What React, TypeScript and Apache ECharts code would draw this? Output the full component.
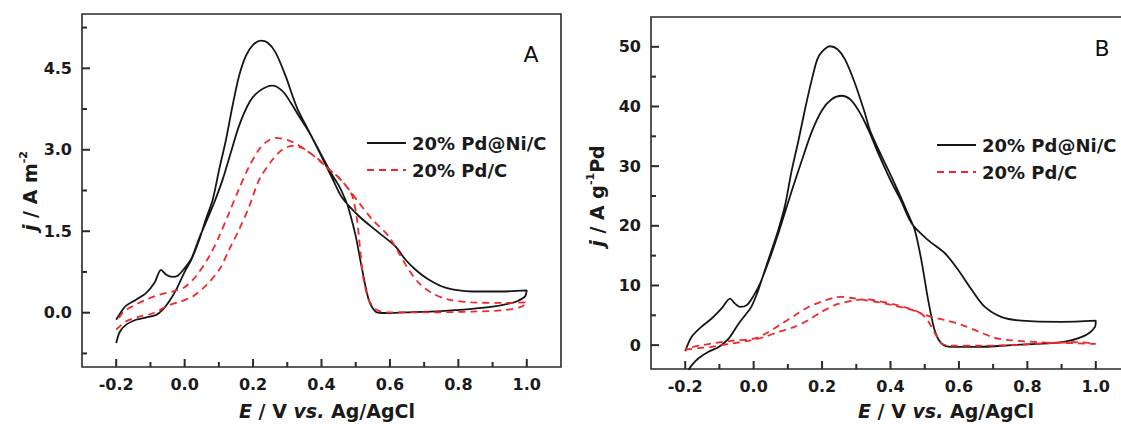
import React, { useEffect, useRef } from 'react';
import * as echarts from 'echarts';

// ---------- tick values ----------
const X_LABELS = [-0.2, 0, 0.2, 0.4, 0.6, 0.8, 1.0];
const X_MINOR = [-0.1, 0.1, 0.3, 0.5, 0.7, 0.9];
const YA_LABELS = [0, 1.5, 3.0, 4.5];
const YA_MINOR = [-0.75, 0.75, 2.25, 3.75, 5.25];
const YB_LABELS = [0, 10, 20, 30, 40, 50];
const YB_MINOR = [5, 15, 25, 35, 45];

const LEGEND_NAMES = ['20% Pd@Ni/C', '20% Pd/C'];

// ---------- Panel A : j / A m^-2 ----------
const A_NI_FWD = [
  [-0.2, -0.13], [-0.185, 0.02], [-0.171, 0.13], [-0.142, 0.24], [-0.113, 0.36], [-0.088, 0.55],
  [-0.069, 0.79], [-0.054, 0.7], [-0.035, 0.66], [-0.02, 0.68], [0.0, 0.82], [0.02, 1.0],
  [0.043, 1.38], [0.062, 1.66], [0.086, 2.02], [0.111, 2.45], [0.135, 2.95], [0.159, 3.44],
  [0.189, 3.87], [0.218, 4.08], [0.257, 4.18], [0.286, 4.08], [0.31, 3.87], [0.334, 3.62],
  [0.364, 3.32], [0.403, 2.84], [0.432, 2.47], [0.46, 2.12], [0.509, 1.78], [0.568, 1.47],
  [0.616, 1.22], [0.645, 0.98], [0.675, 0.79], [0.713, 0.61], [0.762, 0.46], [0.84, 0.39],
  [0.92, 0.39], [1.0, 0.41],
];
const A_NI_BWD = [
  [1.0, 0.41], [0.995, 0.3], [0.975, 0.22], [0.956, 0.18], [0.9, 0.11], [0.84, 0.07], [0.75, 0.03],
  [0.645, 0.006], [0.577, -0.006], [0.558, 0.02], [0.538, 0.24], [0.519, 0.79], [0.5, 1.41],
  [0.48, 1.9], [0.47, 2.08], [0.45, 2.35], [0.43, 2.55], [0.4, 2.9], [0.36, 3.38], [0.33, 3.75],
  [0.315, 4.0], [0.295, 4.36], [0.266, 4.79], [0.243, 4.97], [0.223, 5.01], [0.2, 4.93],
  [0.179, 4.73], [0.159, 4.36], [0.14, 3.81], [0.121, 3.19], [0.101, 2.64], [0.082, 2.08],
  [0.062, 1.72], [0.043, 1.35], [0.02, 0.98], [0.0, 0.75], [-0.025, 0.42], [-0.045, 0.21],
  [-0.064, 0.055], [-0.083, -0.04], [-0.113, -0.09], [-0.142, -0.13], [-0.171, -0.22],
  [-0.19, -0.36], [-0.2, -0.56],
];
const A_PD_FWD = [
  [-0.2, -0.31], [-0.171, -0.16], [-0.132, -0.07], [-0.093, -0.01], [-0.045, 0.14], [-0.015, 0.2],
  [0.024, 0.3], [0.062, 0.5], [0.101, 0.79], [0.13, 1.16], [0.159, 1.53], [0.189, 1.96],
  [0.218, 2.45], [0.257, 2.82], [0.285, 3.0], [0.315, 3.07], [0.354, 3.0], [0.39, 2.82],
  [0.42, 2.65], [0.451, 2.48], [0.48, 2.27], [0.509, 2.03], [0.548, 1.72], [0.596, 1.41],
  [0.626, 1.1], [0.655, 0.79], [0.684, 0.55], [0.723, 0.36], [0.772, 0.24], [0.84, 0.19],
  [0.937, 0.18], [1.0, 0.19],
];
const A_PD_BWD = [
  [1.0, 0.19], [0.985, 0.11], [0.937, 0.05], [0.84, 0.02], [0.694, 0.006], [0.587, 0.006],
  [0.557, 0.07], [0.538, 0.24], [0.523, 0.61], [0.514, 1.1], [0.504, 1.71], [0.49, 2.15],
  [0.47, 2.35], [0.449, 2.5], [0.42, 2.65], [0.396, 2.8], [0.36, 2.97], [0.334, 3.08],
  [0.305, 3.17], [0.266, 3.22], [0.24, 3.15], [0.218, 3.01], [0.189, 2.7], [0.159, 2.28],
  [0.13, 1.84], [0.101, 1.41], [0.072, 1.04], [0.033, 0.67], [0.0, 0.47], [-0.03, 0.4],
  [-0.074, 0.33], [-0.113, 0.24], [-0.152, 0.12], [-0.181, 0.0], [-0.2, -0.19],
];

// ---------- Panel B : j / A g^-1 Pd ----------
const B_NI_FWD = [
  [-0.2, -1.0], [-0.181, 1.4], [-0.152, 3.1], [-0.122, 4.5], [-0.093, 6.2], [-0.069, 7.8],
  [-0.055, 7.0], [-0.04, 6.4], [-0.02, 6.7], [0.0, 8.3], [0.02, 10.5], [0.053, 15.5],
  [0.082, 20.5], [0.111, 25.8], [0.141, 31.0], [0.17, 35.8], [0.199, 39.3], [0.228, 41.2],
  [0.257, 41.8], [0.286, 41.0], [0.315, 38.5], [0.34, 35.5], [0.364, 32.2], [0.403, 27.3],
  [0.43, 24.3], [0.462, 20.4], [0.51, 17.6], [0.559, 15.4], [0.598, 12.6], [0.637, 9.3],
  [0.676, 6.4], [0.725, 4.7], [0.783, 4.1], [0.9, 3.9], [1.0, 4.1],
];
const B_NI_BWD = [
  [1.0, 4.1], [0.997, 3.0], [0.968, 1.6], [0.9, 0.5], [0.754, 0.0], [0.656, -0.3], [0.578, -0.3],
  [0.549, 0.3], [0.529, 2.5], [0.51, 7.6], [0.49, 14.3], [0.471, 19.3], [0.455, 21.5],
  [0.43, 24.8], [0.403, 28.2], [0.364, 32.9], [0.34, 36.0], [0.325, 38.9], [0.296, 43.9],
  [0.267, 47.9], [0.245, 49.6], [0.223, 50.1], [0.2, 49.2], [0.186, 47.9], [0.17, 44.5],
  [0.15, 39.5], [0.131, 34.3], [0.111, 29.2], [0.092, 23.5], [0.072, 19.3], [0.053, 16.0],
  [0.033, 12.6], [0.014, 9.3], [-0.006, 6.5], [-0.025, 5.0], [-0.044, 3.6], [-0.073, 1.1],
  [-0.102, -0.3], [-0.132, -1.1], [-0.161, -2.2], [-0.18, -3.3], [-0.19, -4.2], [-0.2, -5.5],
];
const B_PD_FWD = [
  [-0.2, -0.73], [-0.161, -0.5], [-0.122, -0.28], [-0.064, 0.28], [-0.015, 0.73], [0.033, 1.4],
  [0.072, 2.2], [0.121, 3.1], [0.16, 4.2], [0.199, 5.6], [0.247, 6.9], [0.296, 7.5],
  [0.33, 7.7], [0.364, 7.4], [0.413, 6.8], [0.462, 6.0], [0.51, 4.9], [0.559, 4.2],
  [0.608, 3.4], [0.656, 2.3], [0.705, 1.2], [0.754, 0.8], [0.851, 0.45], [0.948, 0.3], [1.0, 0.2],
];
const B_PD_BWD = [
  [1.0, 0.2], [0.948, 0.5], [0.851, 0.3], [0.754, 0.0], [0.656, -0.1], [0.578, -0.1],
  [0.549, 0.3], [0.53, 2.0], [0.51, 4.0], [0.491, 5.2], [0.462, 5.9], [0.413, 6.6],
  [0.364, 7.2], [0.32, 7.6], [0.286, 7.9], [0.26, 8.1], [0.237, 8.0], [0.199, 7.3],
  [0.16, 6.4], [0.121, 5.0], [0.082, 3.6], [0.04, 2.1], [0.004, 1.12], [-0.06, 0.75],
  [-0.113, 0.35], [-0.16, -0.1], [-0.2, -0.6],
];

const X_MIN = -0.3;
const X_MAX = 1.1;
const YA_MIN = -1.0;
const YA_MAX = 5.5;
const YB_MIN = -4;
const YB_MAX = 55;

const FONT = '"DejaVu Sans", "Liberation Sans", sans-serif';
const TXT = '#1a1a1a';
const AX = '#2a2a2a';
const BLACK = '#161616';
const RED = '#f0282d';
const MAJOR_LEN = 8;
const MINOR_LEN = 5;

function xAxis(gridIndex: number) {
  return {
    type: 'value', gridIndex, min: X_MIN, max: X_MAX, position: 'bottom',
    axisLine: { show: false, onZero: false }, splitLine: { show: false }, axisTick: { show: false },
    axisLabel: {
      customValues: X_LABELS, formatter: (v: number) => Number(v).toFixed(1), margin: 9,
      fontFamily: FONT, fontWeight: 'bold', fontSize: 16, color: TXT,
    },
  };
}

function yAxis(gridIndex: number, min: number, max: number, labels: number[], digits: number) {
  return {
    type: 'value', gridIndex, min, max, position: 'left',
    axisLine: { show: false, onZero: false }, splitLine: { show: false }, axisTick: { show: false },
    axisLabel: {
      customValues: labels, formatter: (v: number) => Number(v).toFixed(digits), margin: 10,
      fontFamily: FONT, fontWeight: 'bold', fontSize: 16, color: TXT,
    },
  };
}

// inward tick marks, positioned through the axes' scales
function tickSeries(idx: number, yMin: number, yLabels: number[], yMinor: number[]) {
  const xData = [
    ...X_LABELS.map((v) => [v, yMin, MAJOR_LEN]),
    ...X_MINOR.map((v) => [v, yMin, MINOR_LEN]),
  ];
  const yData = [
    ...yLabels.map((v) => [X_MIN, v, MAJOR_LEN]),
    ...yMinor.map((v) => [X_MIN, v, MINOR_LEN]),
  ];
  const mk = (data: number[][], horizontal: boolean) => ({
    type: 'custom', coordinateSystem: 'cartesian2d', xAxisIndex: idx, yAxisIndex: idx, clip: false, z: 5,
    data,
    renderItem: (_p: any, api: any) => {
      const pt = api.coord([api.value(0), api.value(1)]);
      const len = api.value(2);
      return {
        type: 'line',
        shape: horizontal
          ? { x1: pt[0], y1: pt[1], x2: pt[0] + len, y2: pt[1] }
          : { x1: pt[0], y1: pt[1], x2: pt[0], y2: pt[1] - len },
        style: { stroke: AX, lineWidth: 2 },
      };
    },
  });
  return [mk(xData, false), mk(yData, true)];
}

function cv(name: string, fwd: number[][], bwd: number[][], idx: number, dashed: boolean) {
  return {
    type: 'line', name, xAxisIndex: idx, yAxisIndex: idx,
    data: [...fwd, ...bwd.slice(1)],
    showSymbol: false, smooth: 0.3, silent: true, clip: true,
    lineStyle: dashed ? { color: RED, width: 1.8, type: [7, 5] } : { color: BLACK, width: 1.8 },
  };
}

const richBase = { fontFamily: FONT, fontWeight: 'bold', fontSize: 19, fill: TXT, lineHeight: 24 };
const richSet = {
  i: { ...richBase, fontStyle: 'italic' },
  n: { ...richBase },
  s: { fontFamily: FONT, fontWeight: 'bold', fontSize: 11, fill: TXT, lineHeight: 24, verticalAlign: 'top' },
};

function titleText(x: number, y: number, text: string, rotate: boolean) {
  return {
    type: 'text', x, y, rotation: rotate ? Math.PI / 2 : 0, silent: true,
    style: {
      text, rich: richSet, ...richBase,
      align: 'center', verticalAlign: 'middle', textAlign: 'center', textVerticalAlign: 'middle',
    },
  };
}

function legend(x1: number, y1: number, gap: number) {
  const txt = (y: number, s: string) => ({
    type: 'text', x: x1 + 45, y, silent: true,
    style: {
      text: s, fontFamily: FONT, fontWeight: 'bold', fontSize: 18, fill: TXT,
      align: 'left', verticalAlign: 'middle', textAlign: 'left', textVerticalAlign: 'middle',
    },
  });
  return [
    { type: 'line', silent: true, shape: { x1, y1, x2: x1 + 39, y2: y1 }, style: { stroke: BLACK, lineWidth: 1.8 } },
    { type: 'line', silent: true, shape: { x1, y1: y1 + gap, x2: x1 + 39, y2: y1 + gap }, style: { stroke: RED, lineWidth: 1.8, lineDash: [7, 5] } },
    txt(y1, LEGEND_NAMES[0]),
    txt(y1 + gap, LEGEND_NAMES[1]),
  ];
}

function panelLetter(x: number, y: number, s: string) {
  return {
    type: 'text', x, y, silent: true,
    style: {
      text: s, fontFamily: FONT, fontSize: 22, fill: '#111',
      align: 'center', verticalAlign: 'middle', textAlign: 'center', textVerticalAlign: 'middle',
    },
  };
}

export default function App() {
  const ref = useRef<HTMLDivElement>(null);
  useEffect(() => {
    document.body.style.margin = '0';
    if (!ref.current) return;
    const chart = echarts.init(ref.current, undefined, { renderer: 'svg' });
    const option: any = {
      animation: false,
      backgroundColor: '#ffffff',
      grid: [
        { left: 82, top: 14, width: 479, height: 353, show: true, borderColor: AX, borderWidth: 1.6, outerBoundsMode: 'none', containLabel: false },
        { left: 651, top: 17, width: 479, height: 352, show: true, borderColor: AX, borderWidth: 1.6, outerBoundsMode: 'none', containLabel: false },
      ],
      xAxis: [xAxis(0), xAxis(1)],
      yAxis: [
        yAxis(0, YA_MIN, YA_MAX, YA_LABELS, 1),
        yAxis(1, YB_MIN, YB_MAX, YB_LABELS, 0),
      ],
      series: [
        cv(LEGEND_NAMES[0], A_NI_FWD, A_NI_BWD, 0, false),
        cv(LEGEND_NAMES[1], A_PD_FWD, A_PD_BWD, 0, true),
        cv(LEGEND_NAMES[0], B_NI_FWD, B_NI_BWD, 1, false),
        cv(LEGEND_NAMES[1], B_PD_FWD, B_PD_BWD, 1, true),
        ...tickSeries(0, YA_MIN, YA_LABELS, YA_MINOR),
        ...tickSeries(1, YB_MIN, YB_LABELS, YB_MINOR),
      ],
      graphic: [
        titleText(327, 411, '{i|E}{n| / V }{i|vs.}{n| Ag/AgCl}', false),
        titleText(946, 411, '{i|E}{n| / V }{i|vs.}{n| Ag/AgCl}', false),
        titleText(30, 191, '{i|j}{n| / A m}{s|-2}', true),
        titleText(597, 196, '{i|j}{n| / A g}{s|-1}{n|Pd}', true),
        ...legend(367, 143, 27),
        ...legend(937, 145, 27),
        panelLetter(531, 54, 'A'),
        panelLetter(1102, 48, 'B'),
      ],
    };
    chart.setOption(option);
    return () => chart.dispose();
  }, []);
  return <div ref={ref} style={{ width: 1121, height: 432 }} />;
}
